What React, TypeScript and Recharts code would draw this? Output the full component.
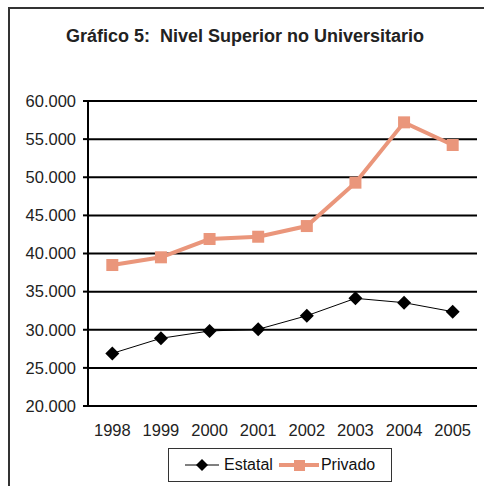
import { LineChart, Line, XAxis, YAxis, CartesianGrid, Legend } from 'recharts';

const years = [1998, 1999, 2000, 2001, 2002, 2003, 2004, 2005];
const estatal = [26900, 28880, 29840, 30060, 31840, 34120, 33550, 32370];
const privado = [38490, 39500, 41900, 42200, 43600, 49290, 57200, 54230];
const yTicks = [20000, 25000, 30000, 35000, 40000, 45000, 50000, 55000, 60000];
const edgeTicks = [1997.5, 1998.5, 1999.5, 2000.5, 2001.5, 2002.5, 2003.5, 2004.5, 2005.5];

const data = years.map((year, i) => ({ year, Estatal: estatal[i], Privado: privado[i] }));

const FONT = '"Liberation Sans", Arial, sans-serif';
const SALMON = '#EA967B';

const fmt = (v: number) => `${v / 1000}.000`;

const Diamond = ({ cx, cy }: any) => (
  <polygon points={`${cx},${cy - 7} ${cx + 7},${cy} ${cx},${cy + 7} ${cx - 7},${cy}`} fill="#000" />
);

const Square = ({ cx, cy }: any) => (
  <rect x={cx - 6} y={cy - 6} width={12} height={12} fill={SALMON} />
);

function LegendBox() {
  return (
    <div
      style={{
        boxSizing: 'border-box',
        width: 224,
        height: 34,
        border: '1px solid #333',
        display: 'flex',
        alignItems: 'center',
        paddingLeft: 16,
        fontFamily: FONT,
        fontSize: 16,
        color: '#111',
        background: '#fff',
      }}
    >
      <svg width={34} height={16} style={{ marginRight: 5 }}>
        <line x1={0} y1={8} x2={34} y2={8} stroke="#000" strokeWidth={1} />
        <polygon points="17,2 23,8 17,14 11,8" fill="#000" />
      </svg>
      <span>Estatal</span>
      <svg width={40} height={16} style={{ marginLeft: 6, marginRight: 2 }}>
        <line x1={0} y1={8} x2={40} y2={8} stroke={SALMON} strokeWidth={4} />
        <rect x={15} y={3} width={11} height={11} fill={SALMON} />
      </svg>
      <span>Privado</span>
    </div>
  );
}

export default function App() {
  return (
    <div style={{ position: 'relative', width: 484, height: 486, overflow: 'hidden', background: '#fff' }}>
      <style>{'body{margin:0;overflow:hidden}'}</style>
      <div
        style={{
          position: 'absolute',
          left: 8,
          top: 7,
          width: 520,
          height: 520,
          borderLeft: '2px solid #333',
          borderTop: '2px solid #333',
        }}
      />
      <div
        style={{
          position: 'absolute',
          left: 3,
          top: 27,
          width: 484,
          textAlign: 'center',
          fontFamily: FONT,
          fontWeight: 'bold',
          fontSize: 18,
          lineHeight: '18px',
          color: '#222',
          whiteSpace: 'pre',
        }}
      >
        Gráfico 5:  Nivel Superior no Universitario
      </div>
      <div style={{ position: 'absolute', left: 0, top: 0 }}>
        <LineChart width={484} height={486} data={data} margin={{ top: 101, right: 7, left: 0, bottom: 42 }}>
          <CartesianGrid vertical={false} stroke="#000" strokeWidth={2} />
          <XAxis
            dataKey="year"
            type="number"
            domain={[1997.5, 2005.5]}
            ticks={edgeTicks}
            tick={false}
            height={8}
            tickSize={5}
            axisLine={{ stroke: '#000', strokeWidth: 2 }}
            tickLine={{ stroke: '#000', strokeWidth: 2 }}
          />
          <XAxis
            xAxisId="labels"
            dataKey="year"
            type="number"
            domain={[1997.5, 2005.5]}
            ticks={years}
            height={30}
            axisLine={false}
            tickLine={false}
            tickSize={6}
            tickMargin={4}
            tick={{ fill: '#222', fontSize: 16.5, fontFamily: FONT }}
          />
          <YAxis
            domain={[20000, 60000]}
            ticks={yTicks}
            tickFormatter={fmt}
            width={88}
            tickSize={5}
            tickMargin={7}
            axisLine={{ stroke: '#000', strokeWidth: 2 }}
            tickLine={{ stroke: '#000', strokeWidth: 2 }}
            tick={{ fill: '#222', fontSize: 16.5, fontFamily: FONT }}
          />
          <YAxis
            yAxisId="frame"
            orientation="right"
            width={0}
            tick={false}
            tickLine={false}
            axisLine={{ stroke: '#000', strokeWidth: 2 }}
          />
          <Legend
            layout="horizontal"
            verticalAlign="middle"
            align="center"
            wrapperStyle={{ left: 168, top: 448, width: 224, height: 34 }}
            content={() => <LegendBox />}
          />
          <Line
            dataKey="Estatal"
            stroke="#000"
            strokeWidth={1}
            dot={<Diamond />}
            activeDot={false}
            isAnimationActive={false}
          />
          <Line
            dataKey="Privado"
            stroke={SALMON}
            strokeWidth={4}
            dot={<Square />}
            activeDot={false}
            isAnimationActive={false}
          />
        </LineChart>
      </div>
    </div>
  );
}
